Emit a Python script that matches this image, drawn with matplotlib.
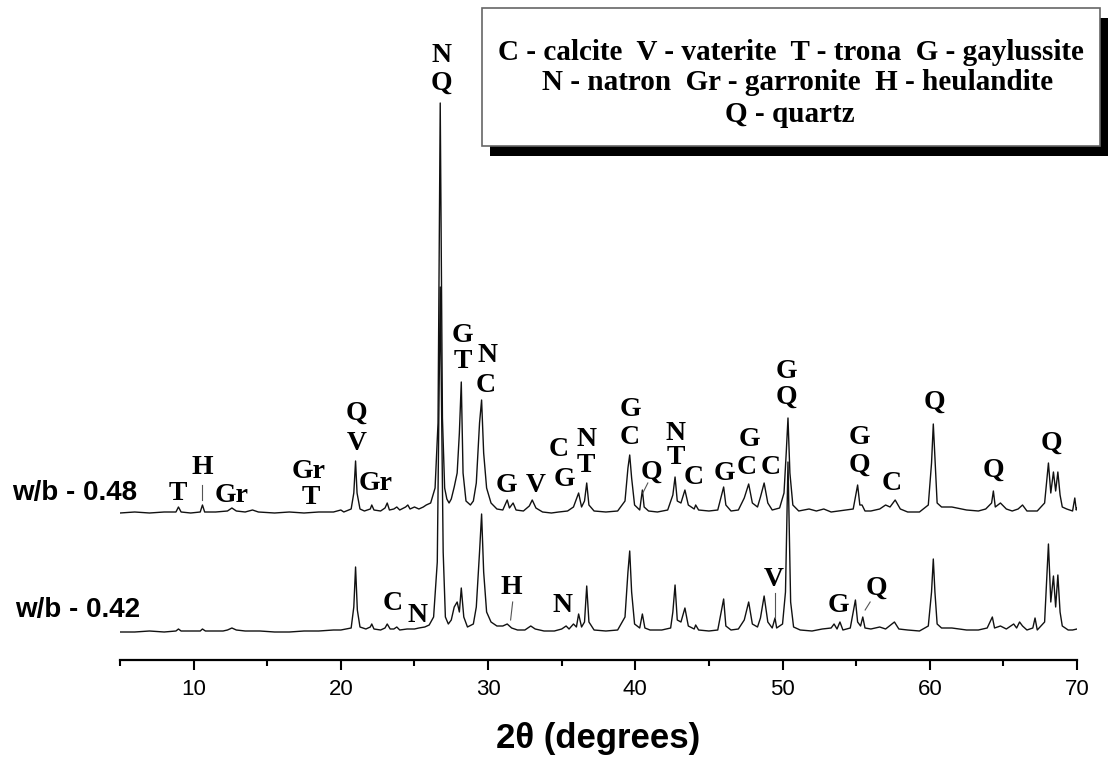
import matplotlib.pyplot as plt
from matplotlib.patches import Rectangle
from matplotlib.ticker import MultipleLocator

# XRD traces, 2theta (deg) and intensity (a.u., above own baseline)
tt_48 = [5.0, 6.0, 7.0, 8.0, 8.8, 8.97, 9.15, 9.8, 10.45, 10.6, 10.75, 11.5, 12.3, 12.6, 12.9,
         13.5, 14.0, 14.4, 15.5, 16.5, 17.5, 18.5, 19.5, 20.0, 20.2, 20.7, 20.88, 21.0, 21.1,
         21.3, 21.6, 22.0, 22.1, 22.25, 22.7, 23.0, 23.15, 23.3, 23.6, 23.8, 24.0, 24.4, 24.55,
         24.7, 25.0, 25.3, 25.6, 25.8, 26.1, 26.4, 26.6, 26.75, 26.9, 27.05, 27.2, 27.35, 27.5,
         27.7, 27.9, 28.05, 28.18, 28.3, 28.5, 28.8, 29.0, 29.2, 29.42, 29.56, 29.7, 29.9, 30.2,
         30.6, 31.0, 31.3, 31.45, 31.7, 31.9, 32.4, 32.8, 33.0, 33.25, 33.7, 34.3, 34.8, 35.4,
         35.8, 36.15, 36.35, 36.55, 36.7, 36.85, 37.2, 38.0, 38.8, 39.3, 39.5, 39.62, 39.75,
         39.95, 40.3, 40.48, 40.6, 40.9, 41.5, 42.2, 42.55, 42.7, 42.85, 43.1, 43.37, 43.6, 44.0,
         44.1, 44.3, 45.0, 45.6, 46.0, 46.15, 46.5, 47.0, 47.4, 47.7, 47.95, 48.3, 48.5, 48.75,
         49.0, 49.3, 49.8, 50.1, 50.25, 50.37, 50.5, 50.7, 51.1, 51.8, 52.3, 52.8, 53.3, 53.8,
         54.3, 54.8, 55.1, 55.25, 55.4, 55.6, 56.0, 56.6, 57.0, 57.3, 57.65, 58.0, 58.5, 59.3,
         59.9, 60.12, 60.24, 60.35, 60.5, 60.8, 61.5, 62.5, 63.3, 63.8, 64.2, 64.32, 64.45, 64.8,
         65.2, 65.6, 66.0, 66.3, 66.6, 67.3, 67.8, 68.06, 68.22, 68.4, 68.55, 68.7, 68.85, 69.0,
         69.3, 69.7, 69.85, 69.95, 70.0]
i_48 = [0, 1, 0, 1, 1, 6, 1, 0, 1, 8, 1, 1, 2, 5, 2,
        1, 3, 1, 0, 1, 0, 1, 1, 3, 1, 4, 20, 52, 20,
        4, 2, 4, 8, 3, 2, 5, 10, 3, 4, 6, 3, 6, 8,
        4, 6, 4, 6, 8, 10, 25, 90, 410, 95, 25, 14, 10, 14,
        26, 40, 80, 131, 40, 12, 8, 12, 30, 90, 113, 60, 25, 10,
        4, 3, 13, 5, 10, 3, 2, 7, 13, 5, 1, 0, 1, 2,
        6, 20, 6, 12, 30, 8, 2, 1, 2, 12, 45, 58, 35,
        8, 3, 23, 6, 2, 1, 3, 18, 36, 12, 10, 23, 8, 4,
        8, 3, 2, 3, 26, 8, 2, 3, 15, 29, 10, 6, 16, 30,
        10, 3, 5, 20, 60, 95, 40, 8, 2, 4, 2, 4, 1, 2,
        3, 4, 28, 8, 8, 2, 2, 4, 8, 6, 13, 4, 1, 1,
        8, 50, 89, 55, 10, 6, 6, 3, 2, 4, 10, 22, 6, 10,
        4, 2, 4, 8, 2, 2, 10, 50, 20, 41, 22, 41, 18, 6,
        4, 2, 15, 3, 5]

tt_42 = [5.0, 6.0, 7.0, 8.0, 8.8, 8.97, 9.15, 10.0, 10.45, 10.6, 10.8, 12.0, 12.3, 12.6, 12.9,
         13.5, 14.5, 15.5, 16.5, 17.5, 18.5, 19.5, 20.0, 20.7, 20.88, 21.0, 21.12, 21.3, 21.7,
         22.0, 22.1, 22.25, 22.7, 23.0, 23.15, 23.35, 23.6, 23.8, 24.0, 24.5, 25.0, 25.3, 25.7,
         26.0, 26.3, 26.55, 26.75, 26.95, 27.1, 27.3, 27.5, 27.7, 27.9, 28.05, 28.18, 28.35, 28.6,
         29.0, 29.2, 29.42, 29.56, 29.7, 29.9, 30.2, 30.6, 31.0, 31.3, 31.6, 32.0, 32.5, 32.9,
         33.2, 33.8, 34.5, 35.0, 35.3, 35.5, 35.8, 36.0, 36.15, 36.35, 36.55, 36.7, 36.85, 37.2,
         38.0, 38.8, 39.3, 39.5, 39.62, 39.75, 39.95, 40.3, 40.48, 40.65, 41.0, 41.8, 42.4, 42.55,
         42.7, 42.85, 43.1, 43.37, 43.6, 44.0, 44.1, 44.3, 45.0, 45.6, 46.0, 46.15, 46.5, 47.0,
         47.4, 47.7, 47.95, 48.3, 48.5, 48.75, 49.0, 49.3, 49.49, 49.6, 50.0, 50.2, 50.37, 50.55,
         50.75, 51.2, 52.0, 52.7, 53.3, 53.5, 53.7, 53.9, 54.1, 54.6, 54.95, 55.1, 55.3, 55.45,
         55.6, 56.0, 56.6, 57.0, 57.6, 57.9, 58.5, 59.3, 59.9, 60.12, 60.24, 60.35, 60.5, 60.8,
         61.5, 62.5, 63.3, 63.9, 64.25, 64.4, 64.8, 65.2, 65.7, 65.9, 66.1, 66.3, 66.6, 67.0,
         67.15, 67.3, 67.8, 68.06, 68.22, 68.4, 68.55, 68.7, 68.85, 69.0, 69.4, 69.7, 70.0]
i_42 = [0, 0, 1, 0, 1, 3, 1, 1, 1, 3, 1, 1, 2, 4, 2,
        1, 1, 0, 0, 1, 1, 2, 2, 4, 25, 65, 22, 5, 3,
        5, 8, 3, 2, 4, 8, 3, 3, 5, 2, 3, 3, 4, 5,
        7, 15, 70, 345, 80, 15, 8, 12, 25, 30, 20, 44, 15, 5,
        8, 25, 80, 118, 60, 20, 10, 6, 6, 8, 4, 2, 2, 6,
        3, 1, 1, 3, 6, 3, 8, 5, 18, 5, 10, 46, 10, 2,
        1, 2, 15, 60, 81, 40, 8, 4, 18, 4, 2, 2, 4, 20,
        47, 12, 10, 24, 6, 3, 7, 2, 1, 2, 33, 6, 2, 3,
        12, 30, 8, 5, 14, 36, 10, 4, 14, 4, 8, 40, 170, 30,
        5, 2, 1, 3, 4, 8, 3, 10, 2, 4, 32, 10, 6, 15,
        4, 3, 5, 3, 10, 3, 2, 1, 6, 40, 73, 40, 8, 4,
        4, 2, 2, 4, 15, 4, 6, 3, 8, 4, 10, 6, 2, 4,
        14, 2, 10, 88, 30, 56, 25, 57, 20, 6, 2, 2, 3]

sample_labels = ['w/b - 0.48', 'w/b - 0.42']

# phase labels: (text, 2theta, height)
peak_text_48 = [('T', 8.95, 167), ('H', 10.58, 192), ('Gr', 12.55, 165),
                ('Gr', 17.79, 188), ('T', 17.93, 163),
                ('Q', 21.05, 247), ('V', 21.05, 217), ('Gr', 22.35, 177),
                ('N', 26.84, 605), ('Q', 26.84, 577),
                ('G', 28.27, 324), ('T', 28.27, 298),
                ('N', 29.97, 305), ('C', 29.83, 275),
                ('G', 31.26, 175), ('V', 33.23, 175),
                ('C', 34.80, 210), ('G', 35.20, 180),
                ('N', 36.70, 220), ('T', 36.63, 194),
                ('G', 39.69, 250), ('C', 39.63, 223),
                ('Q', 41.12, 188),
                ('N', 42.76, 227), ('T', 42.76, 203),
                ('C', 43.98, 182), ('G', 46.02, 187),
                ('G', 47.72, 220), ('C', 47.59, 192),
                ('C', 49.22, 193),
                ('G', 50.24, 288), ('Q', 50.24, 263),
                ('G', 55.20, 222), ('Q', 55.20, 195),
                ('C', 57.38, 177), ('Q', 60.31, 258),
                ('Q', 64.32, 190), ('Q', 68.27, 217)]
peak_text_42 = [('C', 23.50, 57), ('N', 25.20, 45), ('H', 31.60, 72),
                ('N', 35.07, 55), ('V', 49.42, 80), ('G', 53.78, 55),
                ('Q', 56.36, 72)]
# leader lines: (x0, y0, x1, y1)
leaders = [(10.6, 160, 10.6, 175), (40.51, 167, 40.85, 177),
           (31.67, 58, 31.53, 40), (49.49, 42, 49.49, 67),
           (55.61, 50, 55.95, 58)]

legend_lines = ['C - calcite  V - vaterite  T - trona  G - gaylussite',
                'N - natron  Gr - garronite  H - heulandite',
                'Q - quartz']

W, H = 1116, 758
fig = plt.figure(figsize=(W / 100, H / 100), dpi=100)
ax = fig.add_axes([120 / W, 1 - 660 / H, (1077 - 120) / W, 660 / H])

base_48, base_42 = 147, 28
ax.plot(tt_48, [v + base_48 for v in i_48], color='#111111', lw=1.0)
ax.plot(tt_42, [v + base_42 for v in i_42], color='#111111', lw=1.0)

serif = dict(family='Liberation Serif', weight='bold', fontsize=20,
             ha='center', va='center')
for t, x, y in peak_text_48 + peak_text_42:
    ax.text(x, y, t, **serif)
for x0, y0, x1, y1 in leaders:
    ax.plot([x0, x1], [y0, y1], color='#555555', lw=0.8)

ax.set_xlim(5, 70)
ax.set_ylim(0, 660)
for s in ['left', 'right', 'top']:
    ax.spines[s].set_visible(False)
ax.spines['bottom'].set_linewidth(1.6)
ax.set_yticks([])
ax.xaxis.set_major_locator(MultipleLocator(10))
ax.xaxis.set_minor_locator(MultipleLocator(5))
ax.tick_params(axis='x', which='major', direction='out', length=7.5, width=1.5,
               labelsize=16, pad=6)
ax.tick_params(axis='x', which='minor', direction='out', length=4, width=1.5)
for lab in ax.get_xticklabels():
    lab.set_family('Liberation Sans')
ax.set_xlabel('2θ (degrees)', family='Liberation Sans', weight='bold',
              fontsize=25, labelpad=16)

# sample names
fig.text(12 / W, 1 - 493 / H, sample_labels[0], family='Liberation Sans',
         weight='bold', fontsize=20, ha='left', va='center')
fig.text(15 / W, 1 - 610 / H, sample_labels[1], family='Liberation Sans',
         weight='bold', fontsize=20, ha='left', va='center')

# legend box with shadow
fig.patches.append(Rectangle((490 / W, 1 - 156 / H), 618 / W, 138 / H,
                             transform=fig.transFigure, facecolor='black',
                             edgecolor='none', zorder=1))
fig.patches.append(Rectangle((482 / W, 1 - 146 / H), 618 / W, 138 / H,
                             transform=fig.transFigure, facecolor='white',
                             edgecolor='#666666', lw=1.2, zorder=2))
for line, cx, cy in zip(legend_lines, [791, 798, 790], [52, 83, 114]):
    fig.text(cx / W, 1 - cy / H, line, family='Liberation Serif',
             weight='bold', fontsize=21, ha='center', va='center', zorder=3)

fig.savefig('out.png', dpi=100)
